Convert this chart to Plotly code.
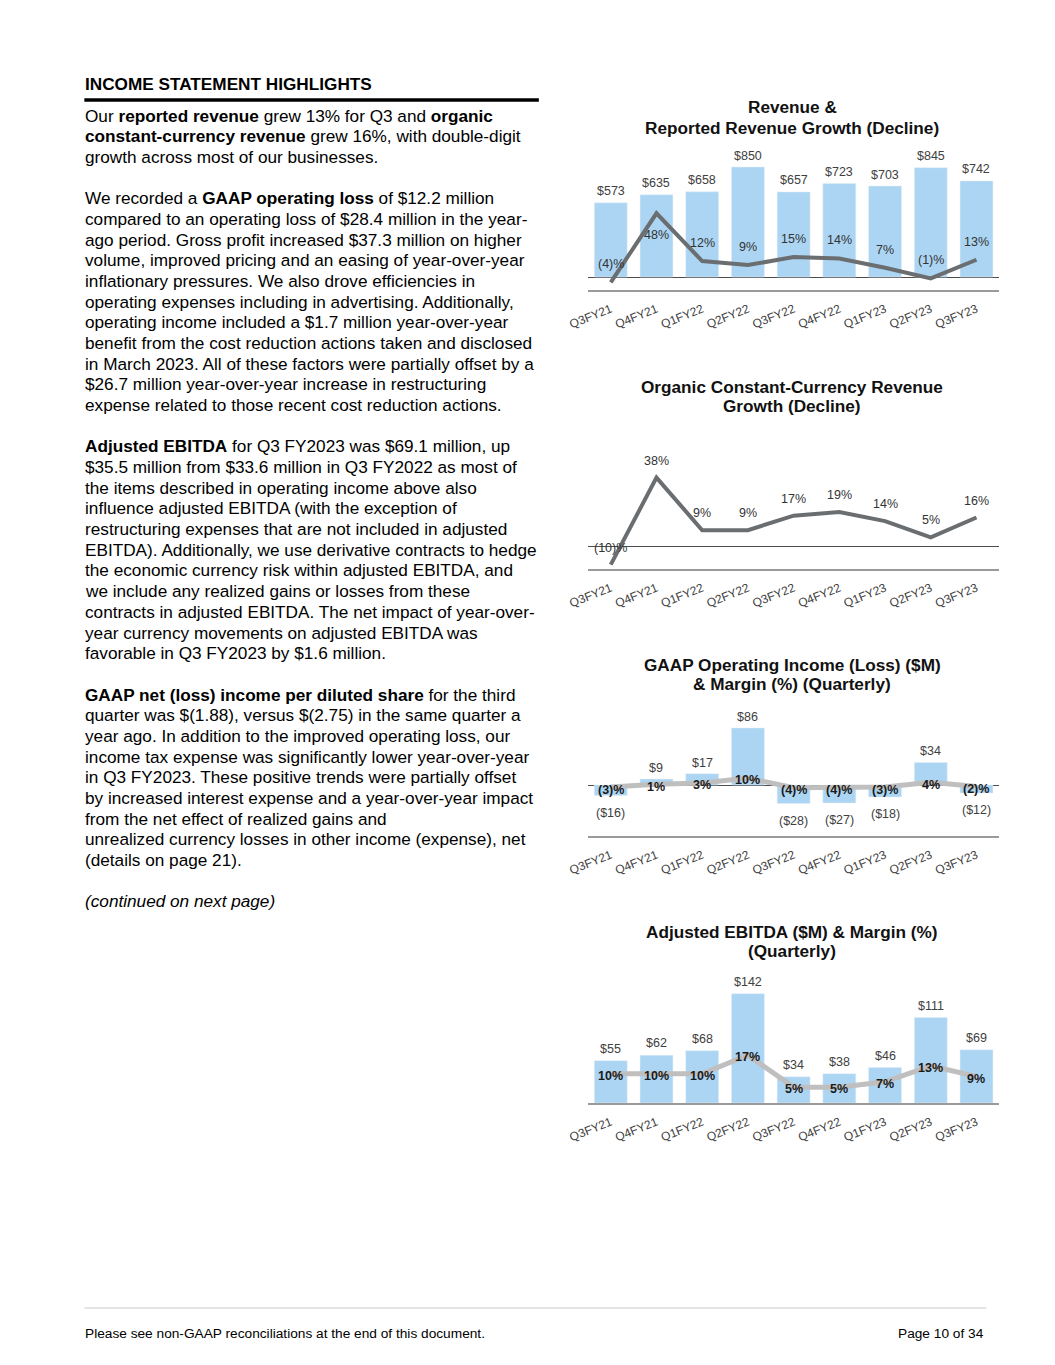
import plotly.graph_objects as go

# ---------------- data ----------------
quarters = ["Q3FY21", "Q4FY21", "Q1FY22", "Q2FY22", "Q3FY22", "Q4FY22", "Q1FY23", "Q2FY23", "Q3FY23"]
revenue = [573, 635, 658, 850, 657, 723, 703, 845, 742]
reported_growth = [-4, 48, 12, 9, 15, 14, 7, -1, 13]
organic_growth = [-10, 38, 9, 9, 17, 19, 14, 5, 16]
gaap_op_income = [-16, 9, 17, 86, -28, -27, -18, 34, -12]
gaap_op_margin = [-3, 1, 3, 10, -4, -4, -3, 4, -2]
adj_ebitda = [55, 62, 68, 142, 34, 38, 46, 111, 69]
adj_ebitda_margin = [10, 10, 10, 17, 5, 5, 7, 13, 9]

chart_titles = [
    ["Revenue &", "Reported Revenue Growth (Decline)"],
    ["Organic Constant-Currency Revenue", "Growth (Decline)"],
    ["GAAP Operating Income (Loss) ($M)", "& Margin (%) (Quarterly)"],
    ["Adjusted EBITDA ($M) & Margin (%)", "(Quarterly)"],
]

header = "INCOME STATEMENT HIGHLIGHTS"
body_lines = [
    "Our <b>reported revenue</b> grew 13% for Q3 and <b>organic</b>",
    "<b>constant-currency revenue</b> grew 16%, with double-digit",
    "growth across most of our businesses.",
    "",
    "We recorded a <b>GAAP operating loss</b> of $12.2 million",
    "compared to an operating loss of $28.4 million in the year-",
    "ago period. Gross profit increased $37.3 million on higher",
    "volume, improved pricing and an easing of year-over-year",
    "inflationary pressures. We also drove efficiencies in",
    "operating expenses including in advertising. Additionally,",
    "operating income included a $1.7 million year-over-year",
    "benefit from the cost reduction actions taken and disclosed",
    "in March 2023. All of these factors were partially offset by a",
    "$26.7 million year-over-year increase in restructuring",
    "expense related to those recent cost reduction actions.",
    "",
    "<b>Adjusted EBITDA</b> for Q3 FY2023 was $69.1 million, up",
    "$35.5 million from $33.6 million in Q3 FY2022 as most of",
    "the items described in operating income above also",
    "influence adjusted EBITDA (with the exception of",
    "restructuring expenses that are not included in adjusted",
    "EBITDA). Additionally, we use derivative contracts to hedge",
    "the economic currency risk within adjusted EBITDA, and",
    "we include any realized gains or losses from these",
    "contracts in adjusted EBITDA. The net impact of year-over-",
    "year currency movements on adjusted EBITDA was",
    "favorable in Q3 FY2023 by $1.6 million.",
    "",
    "<b>GAAP net (loss) income per diluted share</b> for the third",
    "quarter was $(1.88), versus $(2.75) in the same quarter a",
    "year ago. In addition to the improved operating loss, our",
    "income tax expense was significantly lower year-over-year",
    "in Q3 FY2023. These positive trends were partially offset",
    "by increased interest expense and a year-over-year impact",
    "from the net effect of realized gains and",
    "unrealized currency losses in other income (expense), net",
    "(details on page 21).",
    "",
    "<i>(continued on next page)</i>",
]
footer_left = "Please see non-GAAP reconciliations at the end of this document."
footer_right = "Page 10 of 34"

# ---------------- styling ----------------
W, H = 1055, 1365
FONT = "Liberation Sans, Arial, Helvetica, sans-serif"
BAR = "#abd5f2"
DARK_LINE = "#6b6e70"
LIGHT_LINE = "#bfbfbf"
AXIS = "#9a9a9a"
LABEL = "#404040"

# horizontal placement calibration (observed render offset / scale)
X_OFF, X_SCALE = 20.7, 0.98


def fx(p):
    return ((p - X_OFF) / X_SCALE) / W


def fy(p):
    return 1 - p / H


def money(v):
    return f"${v}" if v >= 0 else f"(${-v})"


def pct(v):
    return f"{v}%" if v >= 0 else f"({-v})%"


X_LEFT, X_RIGHT = 588, 999

# (bottom px, top px) for each chart plot area
charts_px = [(290, 150), (569, 440), (836, 700), (1103, 970)]


def rng(bottom_px, top_px, zero_px, px_per_unit):
    return [-(bottom_px - zero_px) / px_per_unit, (zero_px - top_px) / px_per_unit]


fig = go.Figure()

# Chart 1
fig.add_trace(go.Bar(x=quarters, y=revenue, marker_color=BAR, xaxis="x", yaxis="y", hoverinfo="skip"))
fig.add_trace(go.Scatter(x=quarters, y=reported_growth, mode="lines", line=dict(color=DARK_LINE, width=4),
                         xaxis="x", yaxis="y2", hoverinfo="skip"))
# Chart 2
fig.add_trace(go.Scatter(x=quarters, y=organic_growth, mode="lines", line=dict(color=DARK_LINE, width=4),
                         xaxis="x2", yaxis="y3", hoverinfo="skip"))
# Chart 3
fig.add_trace(go.Bar(x=quarters, y=gaap_op_income, marker_color=BAR, xaxis="x3", yaxis="y4", hoverinfo="skip"))
fig.add_trace(go.Scatter(x=quarters, y=gaap_op_margin, mode="lines", line=dict(color=LIGHT_LINE, width=5),
                         xaxis="x3", yaxis="y5", hoverinfo="skip"))
# Chart 4
fig.add_trace(go.Bar(x=quarters, y=adj_ebitda, marker_color=BAR, xaxis="x4", yaxis="y6", hoverinfo="skip"))
fig.add_trace(go.Scatter(x=quarters, y=adj_ebitda_margin, mode="lines", line=dict(color=LIGHT_LINE, width=5),
                         xaxis="x4", yaxis="y7", hoverinfo="skip"))

xdom = [fx(X_LEFT), fx(X_RIGHT)]


def xaxis_cfg(anchor):
    return dict(domain=xdom, anchor=anchor, type="category", range=[-0.5, 8.5],
                showline=True, linecolor=AXIS, linewidth=1.5, showgrid=False, zeroline=False,
                ticks="", tickangle=-22, ticklabelstandoff=6,
                tickfont=dict(size=12, color=LABEL, family=FONT))


def yaxis_cfg(dom_px, r, zeroline=False, overlaying=None, anchor=None):
    d = dict(range=r, showgrid=False, showline=False, showticklabels=False, ticks="",
             zeroline=zeroline, zerolinecolor="#4d4d4d", zerolinewidth=1.2, fixedrange=True)
    if overlaying:
        d["overlaying"] = overlaying
        d["anchor"] = anchor
    else:
        d["domain"] = [fy(dom_px[0]), fy(dom_px[1])]
        d["anchor"] = anchor
    return d


b1, t1 = charts_px[0]
b2, t2 = charts_px[1]
b3, t3 = charts_px[2]
b4, t4 = charts_px[3]

fig.update_layout(
    xaxis=xaxis_cfg("y"),
    xaxis2=xaxis_cfg("y3"),
    xaxis3=xaxis_cfg("y4"),
    xaxis4=xaxis_cfg("y6"),
    yaxis=yaxis_cfg(charts_px[0], rng(b1, t1, 277, 110 / 850), zeroline=True, anchor="x"),
    yaxis2=yaxis_cfg(charts_px[0], rng(b1, t1, 277, 1.327), overlaying="y", anchor="x"),
    yaxis3=yaxis_cfg(charts_px[1], rng(b2, t2, 546.5, 1.8125), zeroline=True, anchor="x2"),
    yaxis4=yaxis_cfg(charts_px[2], rng(b3, t3, 785, 0.663), zeroline=True, anchor="x3"),
    yaxis5=yaxis_cfg(charts_px[2], rng(b3, t3, 785, 0.7), overlaying="y4", anchor="x3"),
    yaxis6=yaxis_cfg(charts_px[3], rng(b4, t4, 1103, 0.77), anchor="x4"),
    yaxis7=yaxis_cfg(charts_px[3], rng(b4, t4, 1100.5, 2.667), overlaying="y6", anchor="x4"),
)

ann = []


def add_label(text, x, y, xref, yref, yshift, bold=False, size=12.5, color=LABEL):
    ann.append(dict(text=f"<b>{text}</b>" if bold else text, x=x, y=y, xref=xref, yref=yref,
                    yshift=yshift, showarrow=False, xanchor="center", yanchor="middle",
                    font=dict(size=size, color=color, family=FONT)))


# chart 1 labels
for q, v in zip(quarters, revenue):
    add_label(money(v), q, v, "x", "y", 11.5)
peak = max(reported_growth)
for q, v in zip(quarters, reported_growth):
    add_label(pct(v), q, v, "x", "y2", -22 if v == peak else 18, color="#333333")
# chart 2 labels
for q, v in zip(quarters, organic_growth):
    add_label(pct(v), q, v, "x2", "y3", 17, color="#333333")
# chart 3 labels
for q, v in zip(quarters, gaap_op_income):
    add_label(money(v), q, v, "x3", "y4", 11 if v >= 0 else -17.5)
for q, v in zip(quarters, gaap_op_margin):
    add_label(pct(v), q, v, "x3", "y5", -2.5, bold=True, color="#1a1a1a")
# chart 4 labels
for q, v in zip(quarters, adj_ebitda):
    add_label(money(v), q, v, "x4", "y6", 12)
for q, v in zip(quarters, adj_ebitda_margin):
    add_label(pct(v), q, v, "x4", "y7", -2, bold=True, color="#1a1a1a")

# chart titles
title_px = [(106.7, 127.7), (386.7, 406), (665, 684.3), (931.7, 951)]
for lines, ys in zip(chart_titles, title_px):
    for line, yp in zip(lines, ys):
        ann.append(dict(text=f"<b>{line}</b>", x=fx(792), y=fy(yp), xref="paper", yref="paper",
                        showarrow=False, xanchor="center", yanchor="middle",
                        font=dict(size=17.2, color="#111111", family=FONT)))

# left text column
ann.append(dict(text=f"<b>{header}</b>", x=fx(84), y=fy(84), xref="paper", yref="paper",
                showarrow=False, xanchor="left", yanchor="middle",
                font=dict(size=17.2, color="#000000", family=FONT)))
for n, line in enumerate(body_lines):
    if not line:
        continue
    ann.append(dict(text=line, x=fx(84), y=fy(115.5 + n * 20.68), xref="paper", yref="paper",
                    showarrow=False, xanchor="left", yanchor="middle", align="left",
                    font=dict(size=17.2, color="#000000", family=FONT)))

# footer
ann.append(dict(text=footer_left, x=fx(84), y=fy(1333), xref="paper", yref="paper",
                showarrow=False, xanchor="left", yanchor="middle",
                font=dict(size=13.7, color="#000000", family=FONT)))
ann.append(dict(text=footer_right, x=fx(986), y=fy(1333), xref="paper", yref="paper",
                showarrow=False, xanchor="right", yanchor="middle",
                font=dict(size=13.7, color="#000000", family=FONT)))

shapes = [
    dict(type="line", xref="paper", yref="paper", x0=fx(85), x1=fx(539), y0=fy(100), y1=fy(100),
         line=dict(color="#000000", width=3.5)),
    dict(type="line", xref="paper", yref="paper", x0=fx(85), x1=fx(986), y0=fy(1308), y1=fy(1308),
         line=dict(color="#c8c8c8", width=1)),
]

fig.update_layout(
    width=W, height=H, autosize=False,
    margin=dict(l=0, r=0, t=0, b=0),
    paper_bgcolor="white", plot_bgcolor="white",
    showlegend=False, bargap=0.28,
    font=dict(family=FONT, color="#000000"),
    annotations=ann, shapes=shapes,
)

page_fix = ("document.body.style.margin='0px';"
            "document.body.style.overflow='hidden';"
            "document.documentElement.style.overflow='hidden';")
fig.write_html("out.html", config={"displayModeBar": False}, post_script=page_fix)
